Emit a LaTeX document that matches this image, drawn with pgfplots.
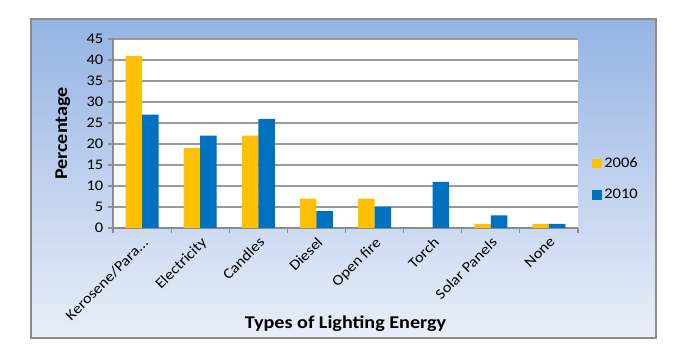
\documentclass[border=0pt]{standalone}
\usepackage{fontspec}
\setmainfont{Carlito}[FakeStretch=1.12]
\usepackage{pgfplots}
\pgfplotsset{compat=1.18}
\definecolor{barYellow}{HTML}{FFC000}
\definecolor{barBlue}{HTML}{0070C0}
\definecolor{bgTop}{HTML}{95B3E3}
\definecolor{bgBottom}{HTML}{E9EFF9}
\definecolor{frameGrey}{HTML}{8C8C8C}
\definecolor{gridGrey}{HTML}{9A9A9A}

\begin{document}
\begin{tikzpicture}
% page and gradient chart area (1px = 0.75pt)
\begin{scope}[x=0.75pt,y=0.75pt]
\fill[white] (0,0) rectangle (674,353);
\shade[top color=bgTop,bottom color=bgBottom,draw=frameGrey,line width=1.3pt] (31,15) rectangle (656,334);
\end{scope}
\begin{axis}[
  at={(84.75pt,93.75pt)}, anchor=south west,
  width=348.75pt, height=141.75pt, scale only axis,
  axis background/.style={fill=white},
  xmin=0.5, xmax=8.5, ymin=0, ymax=45,
  ytick={0,5,...,45},
  xtick={1,...,8},
  xticklabels={Kerosene/Para.{}.{}., Electricity, Candles, Diesel, Open fire, Torch, Solar Panels, None},
  minor xtick={0.5,1.5,...,8.5},
  major x tick style={draw=none},
  tick align=outside,
  major tick length=3.75pt, minor tick length=3.75pt,
  tick style={frameGrey, line width=0.9pt},
  axis x line*=bottom, axis y line*=left,
  axis line style={frameGrey, line width=1.1pt},
  ymajorgrids, grid style={gridGrey, line width=1.1pt},
  ybar=0pt, bar width=12.4pt,
  x tick label style={rotate=45, anchor=north east, inner sep=1.5pt, font=\fontsize{11}{13}\selectfont},
  y tick label style={font=\fontsize{11}{13}\selectfont},
  /pgf/number format/assume math mode=true,
  xlabel={Types of Lighting Energy},
  xlabel style={at={(axis description cs:0.5,-0.505)}, anchor=center, font=\fontsize{13.5}{16}\selectfont\bfseries},
  ylabel={Percentage},
  ylabel style={at={(axis description cs:-0.108,0.5)}, anchor=center, font=\fontsize{13.5}{16}\selectfont\bfseries},
  legend style={at={(axis description cs:1.022,0.40)}, anchor=north west, draw=none, fill=none,
    font=\fontsize{11}{13}\selectfont, row sep=10.5pt},
  legend cell align={left},
  legend image code/.code={\fill[#1] (0pt,-3.4pt) rectangle (6.9pt,3.4pt);},
]
\addplot[fill=barYellow, draw=none] coordinates {(1,41) (2,19) (3,22) (4,7) (5,7) (6,0) (7,1) (8,1)};
\addlegendentry{2006}
\addplot[fill=barBlue, draw=none] coordinates {(1,27) (2,22) (3,26) (4,4) (5,5) (6,11) (7,3) (8,1)};
\addlegendentry{2010}
\end{axis}
\end{tikzpicture}
\end{document}
